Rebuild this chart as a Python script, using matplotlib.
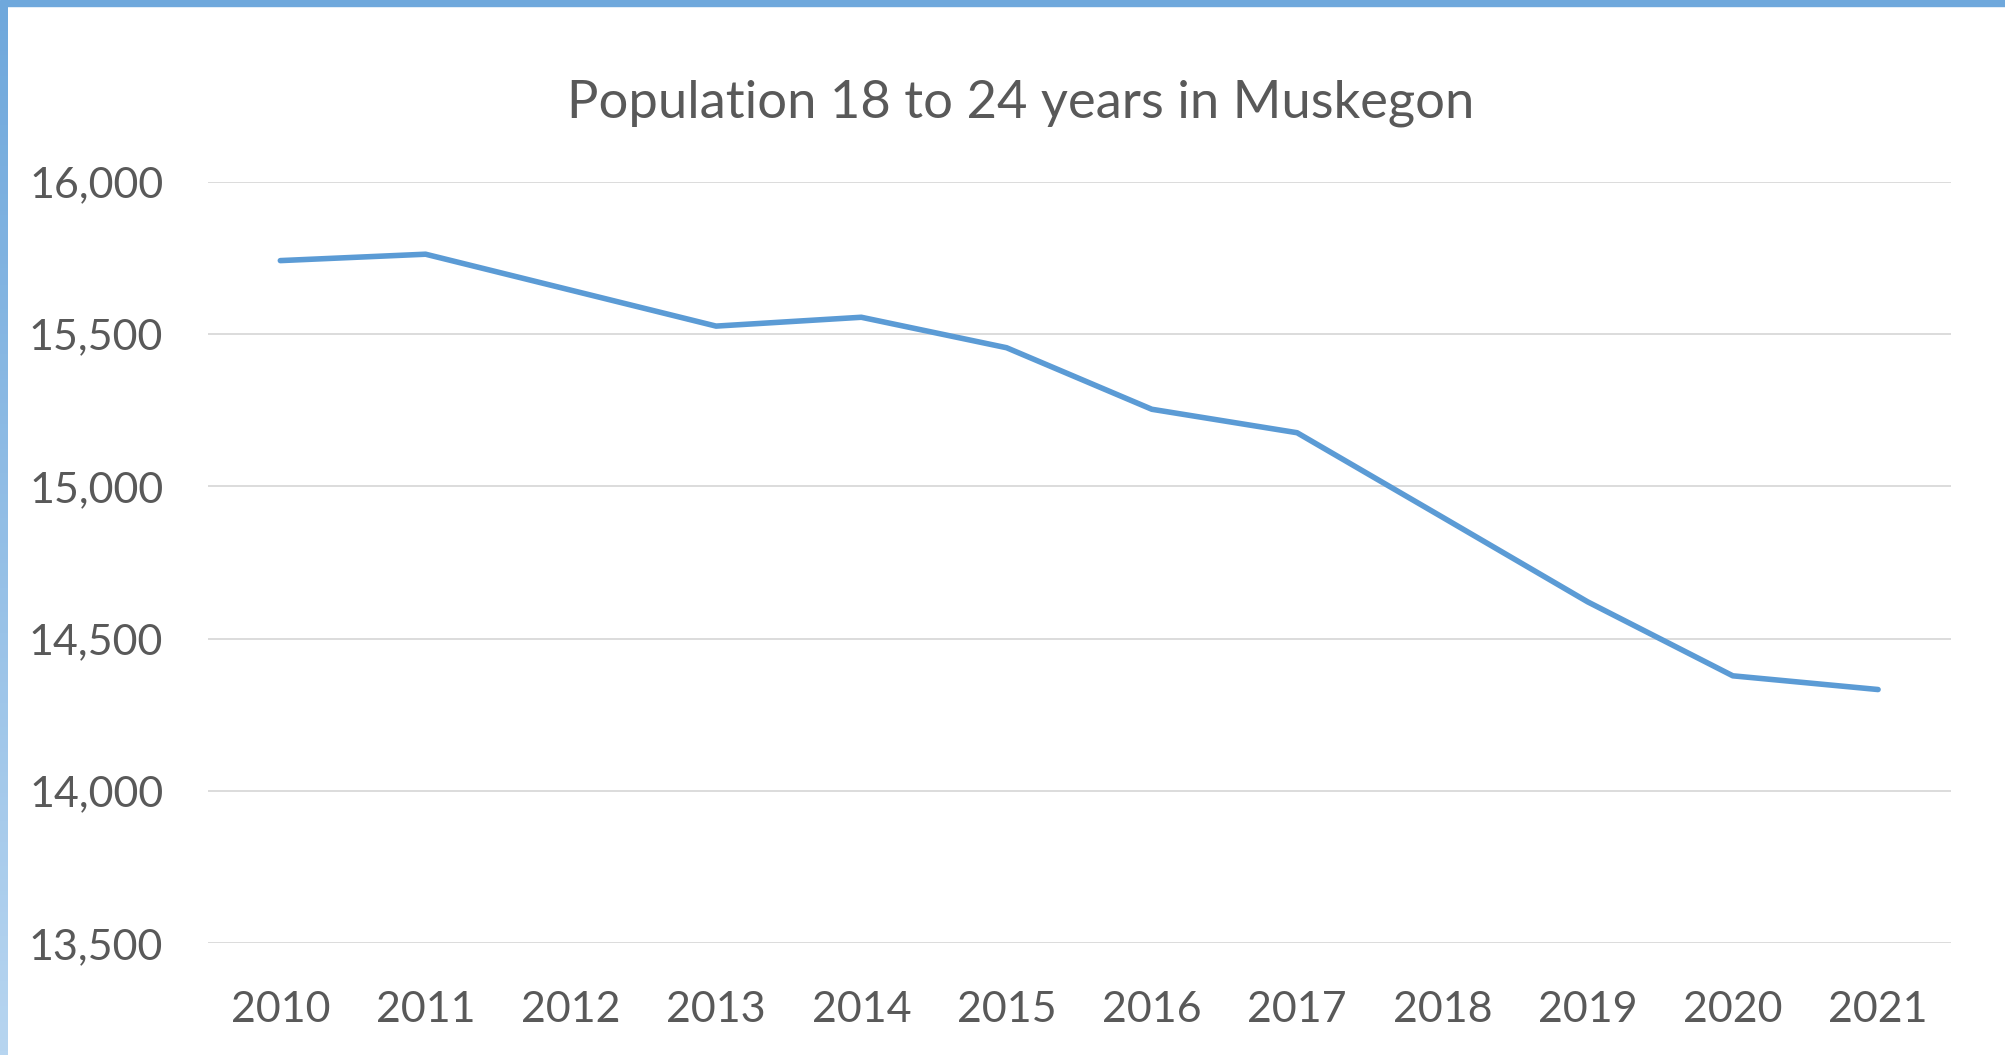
import numpy as np
import matplotlib.pyplot as plt
from matplotlib.colors import LinearSegmentedColormap
from matplotlib.ticker import FuncFormatter

# data
years = ["2010", "2011", "2012", "2013", "2014", "2015",
         "2016", "2017", "2018", "2019", "2020", "2021"]
population = [15741, 15762, 15644, 15526, 15555, 15455,
              15253, 15176, 14899, 14621, 14378, 14333]
y_ticks = [13500, 14000, 14500, 15000, 15500, 16000]

W, H = 2005, 1055
fig = plt.figure(figsize=(W / 100, H / 100), dpi=100)
fig.patch.set_facecolor("white")

font = ["Lato", "DejaVu Sans"]
grey = "#595959"

# plot area (pixel box from the reference)
left, right, top, bottom = 207.7, 1950.7, 181.7, 943.3
ax = fig.add_axes([left / W, 1 - bottom / H, (right - left) / W, (bottom - top) / H])

x = np.arange(len(years))
ax.plot(x, population, color="#5B9BD5", lw=4.0, solid_capstyle="round",
        solid_joinstyle="round", zorder=3)

ax.set_xlim(-0.5, len(years) - 0.5)
ax.set_ylim(y_ticks[0], y_ticks[-1])
ax.set_yticks(y_ticks)
ax.yaxis.set_major_formatter(FuncFormatter(lambda v, p: f"{int(v):,}"))
ax.set_xticks(x)
ax.set_xticklabels(years)

ax.grid(axis="y", color="#D9D9D9", lw=1.3)
ax.set_axisbelow(True)
for s in ax.spines.values():
    s.set_visible(False)
ax.tick_params(length=0, labelsize=31, labelcolor=grey)
ax.tick_params(axis="y", pad=32)
ax.tick_params(axis="x", pad=34)
for lab in ax.get_xticklabels() + ax.get_yticklabels():
    lab.set_family(font)

fig.text(1021 / W, 1 - 103 / H, "Population 18 to 24 years in Muskegon",
         ha="center", va="center", fontsize=37.8, color=grey, family=font)

# frame: solid band on top, fading band on the left
fig.patches.append(plt.Rectangle((0, 1 - 6 / H), 1, 6 / H, transform=fig.transFigure,
                                 color="#6FA8DC", zorder=10))
bax = fig.add_axes([0, 0, 8 / W, 1 - 6 / H])
cmap = LinearSegmentedColormap.from_list("edge", ["#6FA8DC", "#B7D5F0"])
bax.imshow(np.linspace(0, 1, 256).reshape(-1, 1), aspect="auto", cmap=cmap)
bax.axis("off")

fig.savefig("out.png", dpi=100)
